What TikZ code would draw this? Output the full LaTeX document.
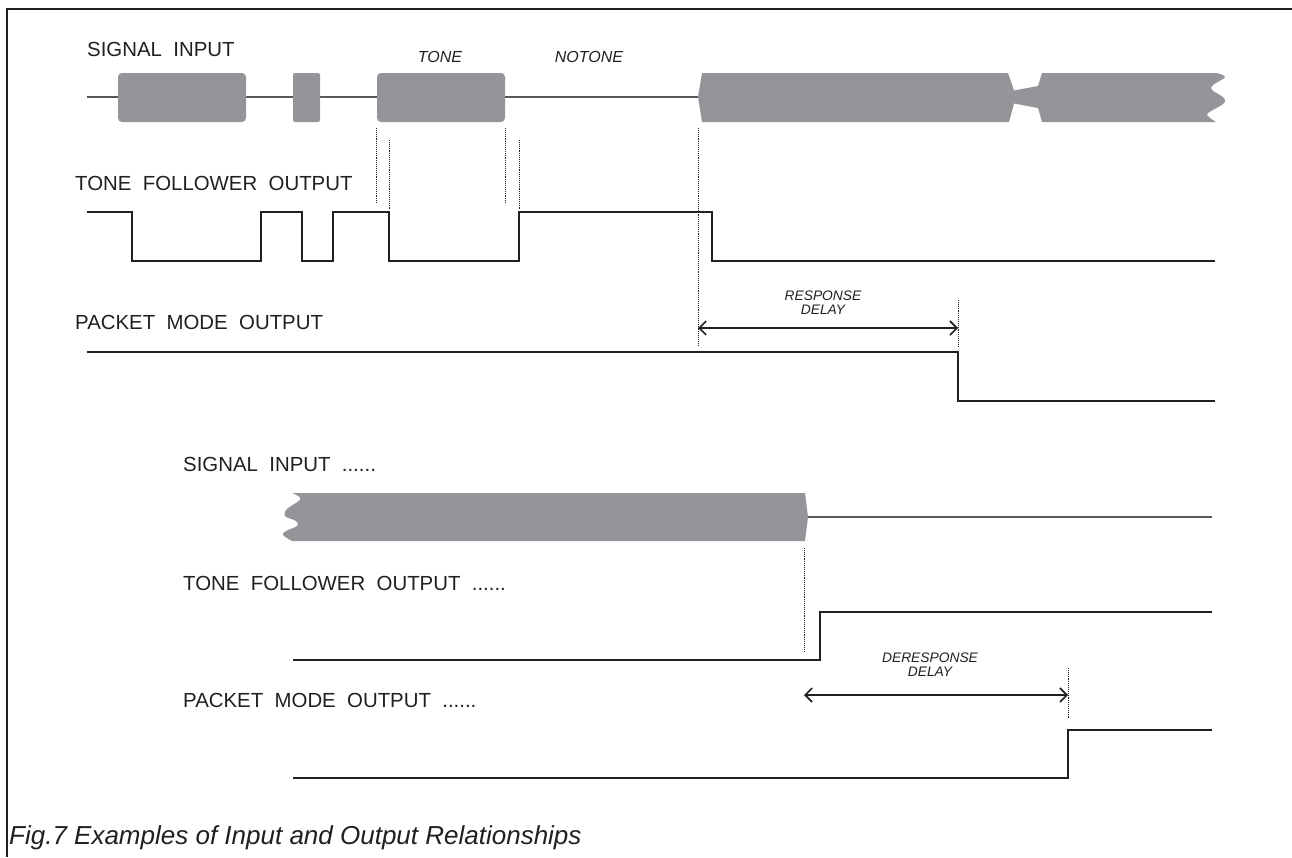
\documentclass[tikz,border=0pt]{standalone}
\usepackage{fontspec}
\setmainfont{Liberation Sans}
\usetikzlibrary{arrows.meta}
\definecolor{sig}{HTML}{939598}
\definecolor{ink}{HTML}{231F20}
\begin{document}
\begin{tikzpicture}[x=1pt,y=-1pt,
  lbl/.style={anchor=west, inner sep=0pt, font=\fontsize{20.4}{20}\selectfont, text=ink},
  tag/.style={inner sep=0pt, font=\fontsize{16}{16}\selectfont\itshape, text=ink},
  dimtxt/.style={inner sep=0pt, font=\fontsize{13.8}{14}\selectfont\itshape, text=ink, align=center},
  wave/.style={draw=ink, line width=2.8pt, line join=miter},
  base/.style={draw=ink!75, line width=1.3pt},
  blk/.style={fill=sig},
  guide/.style={draw=ink, line width=0.9pt, densely dotted},
  dimline/.style={draw=ink, line width=1.3pt, {Straight Barb[length=7pt,width=14pt,line width=1.6pt]}-{Straight Barb[length=7pt,width=14pt,line width=1.6pt]}},
]
\useasboundingbox (0,0) rectangle (1292,857);
% frame
\draw[ink, line width=2.4pt] (7,857) -- (7,9) -- (1292,9);

% ---------- upper group ----------
\node[lbl] (si1) at (87,49) {SIGNAL\ \ INPUT};
\node[tag] (tone) at (440,57) {TONE};
\node[tag] (notone) at (589,57) {NOTONE};
\node[lbl] (tf1) at (75,183) {TONE\ \ FOLLOWER\ \ OUTPUT};
\node[lbl] (pm1) at (75,322) {PACKET\ \ MODE\ \ OUTPUT};

% signal input 1
\draw[base] (87,97) -- (698,97);
\fill[blk, rounded corners=4pt] (118,73) rectangle (246,122);
\fill[blk, rounded corners=2pt] (293,73) rectangle (320,122);
\fill[blk, rounded corners=4pt] (377,73) rectangle (505,122);
\fill[blk] (698,97) -- (702,73) -- (1008,73) -- (1014,90.5) -- (1038,86) -- (1042,73) -- (1216,73)
  -- plot[smooth, tension=0.6] coordinates {(1216,73) (1225,77) (1213,85) (1212,90) (1224,98) (1223,104) (1208,113) (1209,117) (1216,122)}
  -- (1042,122) -- (1038,108) -- (1014,103.5) -- (1009,122) -- (702,122) -- cycle;

% guides
\coordinate (g1a) at (376,128); \coordinate (g1b) at (376,203);
\coordinate (g2a) at (389,140); \coordinate (g2b) at (389,210);
\coordinate (g3a) at (505,128); \coordinate (g3b) at (505,203);
\coordinate (g4a) at (519,140); \coordinate (g4b) at (519,210);
\coordinate (g5a) at (698,128); \coordinate (g5b) at (698,346);
\coordinate (g6a) at (958,300); \coordinate (g6b) at (958,346);
\foreach \g in {1,...,6} \draw[guide] (g\g a) -- (g\g b);

% tone follower output 1
\draw[wave] (87,212) -- (132,212) -- (132,261) -- (261,261) -- (261,212) -- (302,212) -- (302,261)
  -- (333,261) -- (333,212) -- (389,212) -- (389,261) -- (519,261) -- (519,212) -- (712,212)
  -- (712,261) -- (1215,261);

% packet mode output 1
\draw[wave] (87,352) -- (958,352) -- (958,401) -- (1215,401);

% response delay
\coordinate (r1) at (698,328); \coordinate (r2) at (958,328);
\draw[dimline] (r1) -- (r2);
\node[dimtxt] (rd) at (823,303) {RESPONSE\\DELAY};

% ---------- lower group ----------
\node[lbl] (si2) at (183,464) {SIGNAL\ \ INPUT\ \ ......};
\node[lbl] (tf2) at (183,583) {TONE\ \ FOLLOWER\ \ OUTPUT\ \ ......};
\node[lbl] (pm2) at (183,700) {PACKET\ \ MODE\ \ OUTPUT\ \ ......};

\fill[blk] (292,493) -- (805,493) -- (808,517) -- (805,541) -- (292,541)
  -- plot[smooth, tension=0.6] coordinates {(292,541) (283,535) (286,531) (297,526) (296,521) (285,516) (287,509) (300,500) (298,496) (292,493)}
  -- cycle;
\draw[base] (808,517) -- (1212,517);

\coordinate (g7a) at (804,548); \coordinate (g7b) at (804,652);
\coordinate (g8a) at (1068,668); \coordinate (g8b) at (1068,718);
\draw[guide] (g7a) -- (g7b);
\draw[guide] (g8a) -- (g8b);

\draw[wave] (293,660) -- (820,660) -- (820,612) -- (1212,612);
\draw[wave] (293,778) -- (1068,778) -- (1068,730) -- (1212,730);

\coordinate (d1) at (804,695); \coordinate (d2) at (1068,695);
\draw[dimline] (d1) -- (d2);
\node[dimtxt] (dd) at (930,665) {DERESPONSE\\DELAY};

% caption
\node[anchor=west, inner sep=0pt, font=\fontsize{26}{26}\selectfont\itshape, text=ink] (cap) at (9,838) {Fig.7 Examples of Input and Output Relationships};
\end{tikzpicture}
\end{document}
